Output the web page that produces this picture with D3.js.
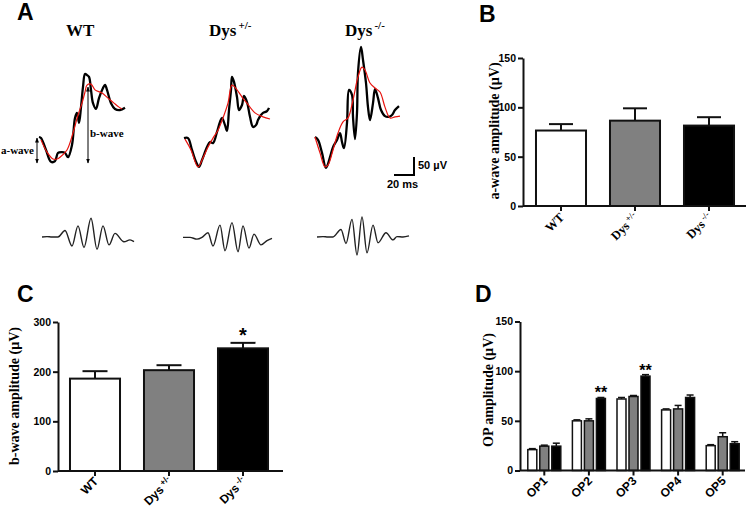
<!DOCTYPE html>
<html><head><meta charset="utf-8">
<script src="https://cdn.jsdelivr.net/npm/d3@7"></script>
<style>
body{margin:0;background:#fff;}
svg{display:block;}
</style></head>
<body>
<svg id="c" width="747" height="509"></svg>
<script>
// ================= DATA =================
const groups = ["WT", "Dys +/-", "Dys -/-"];
const groupFills = ["#ffffff", "#808080", "#000000"];

// Panel B: a-wave amplitude (µV), mean and SEM
const aWaveMean = [76.5, 86.5, 81.5];
const aWaveSem  = [6.5, 12.5, 8.5];
const aWaveTicks = [0, 50, 100, 150];

// Panel C: b-wave amplitude (µV)
const bWaveMean = [186, 203, 247];
const bWaveSem  = [15, 10, 11];
const bWaveTicks = [0, 100, 200, 300];
const bWaveStars = ["", "", "*"];

// Panel D: oscillatory potentials (µV)
const opLabels = ["OP1", "OP2", "OP3", "OP4", "OP5"];
const opWT     = [21, 50, 72, 61, 25];
const opWTSem  = [1, 1, 1.5, 1, 1];
const opHet    = [24.5, 50, 74.5, 62, 34];
const opHetSem = [1, 2, 1, 3.5, 4];
const opKO     = [24.5, 72.5, 95, 73.5, 27];
const opKOSem  = [3, 1, 1.5, 2.5, 2];
const opStars  = ["", "**", "**", "", ""];
const opTicks  = [0, 50, 100, 150];

// Panel A: representative ERG traces [time ms, amplitude µV]
const wtTrace  = [[0,0],[2,-3],[7,-36],[12,-69],[16,-67],[19,-44],[23,-42],[26,-44],[29,-56],[33,-22],[36,53],[38,67],[40,39],[42,83],[44,139],[46,175],[48,172],[50,167],[52,131],[54,94],[57,78],[60,108],[64,136],[66,145],[68,131],[72,94],[76,78],[81,75],[86,81]];
const wtFit    = [[2,-8],[8,-42],[14,-61],[18,-61],[21,-56],[28,-36],[34,11],[39,61],[43,94],[46,125],[48,144],[52,147],[56,131],[63,122],[69,108],[75,94],[80,83],[83,78]];
const hetTrace = [[0,-3],[4,-3],[8,-36],[12,-69],[15,-83],[18,-64],[23,-28],[26,-14],[29,-17],[33,14],[36,42],[38,53],[41,33],[43,17],[45,75],[47,131],[48,167],[50,153],[53,111],[55,75],[58,89],[60,114],[63,97],[66,56],[69,28],[72,33],[74,47],[77,61],[79,67],[83,72],[85,81]];
const hetFit   = [[1,-6],[7,-36],[14,-83],[19,-58],[24,-28],[29,-3],[34,19],[39,53],[44,94],[48,144],[53,131],[58,111],[63,94],[71,67],[79,56],[86,50]];
const koTrace  = [[0,0],[3,-8],[7,-44],[11,-86],[15,-56],[18,-28],[22,-8],[25,11],[27,-14],[29,-31],[32,39],[34,131],[37,117],[38,56],[40,-6],[42,67],[43,178],[46,250],[48,214],[51,150],[53,83],[55,47],[58,94],[60,133],[63,108],[66,75],[70,58],[74,56],[77,61],[80,75],[84,86]];
const koFit    = [[0,0],[5,-44],[10,-83],[13,-78],[18,-36],[23,11],[28,42],[33,53],[38,103],[43,167],[47,194],[50,186],[55,150],[60,136],[65,125],[70,83],[75,53],[80,56],[85,58]];

// Panel A: oscillatory potential traces
const wtOP  = [[0,0],[5,1],[10,0],[16,0],[23,18],[30,-25],[36,31],[42,-29],[49,52],[55,-34],[61,31],[67,-22],[73,10],[82,-13],[88,-8],[92,-13]];
const hetOP = [[0,-1],[7,-1],[14,-6],[19,-1],[25,12],[30,-25],[37,33],[42,-38],[49,40],[55,-41],[60,31],[66,-31],[71,8],[78,-22],[84,-10],[89,-4]];
const koOP  = [[0,0],[6,1],[11,0],[16,0],[24,21],[29,-18],[35,49],[40,-50],[45,56],[50,-44],[56,33],[61,-16],[69,12],[76,-8],[80,1],[86,0],[92,3]];

// ================= DRAWING =================
const SANS = "'Liberation Sans', Arial, Helvetica, sans-serif";
const SERIF = "'Liberation Serif', 'Times New Roman', serif";
const INK = "#111";
const svg = d3.select("#c");
svg.append("rect").attr("width", 747).attr("height", 509).attr("fill", "#fff");

function letter(t, x, y) {
  svg.append("text").attr("x", x).attr("y", y).attr("font-family", SANS)
    .attr("font-weight", "bold").attr("font-size", 23).attr("fill", "#000").text(t);
}
function addName(sel, name, size, supSize, lift) {
  const parts = name.split(" ");
  sel.append("tspan").text(parts[0]);
  if (parts[1]) sel.append("tspan").attr("font-size", supSize).attr("dx", 2).attr("dy", -lift).text(parts[1]);
}
function yAxis(scale, x, ticks) {
  const g = svg.append("g").attr("transform", `translate(${x},0)`)
    .call(d3.axisLeft(scale).tickValues(ticks).tickSize(5).tickSizeOuter(0).tickPadding(2));
  g.select(".domain").attr("stroke", INK).attr("stroke-width", 2);
  g.selectAll(".tick line").attr("stroke", INK).attr("stroke-width", 2);
  g.selectAll(".tick text").attr("font-family", SANS).attr("font-weight", "bold")
    .attr("font-size", 10.5).attr("fill", "#000");
}
function xAxis(band, y, x0, x1) {
  const g = svg.append("g").attr("transform", `translate(0,${y})`)
    .call(d3.axisBottom(band).tickSize(5).tickSizeOuter(0).tickFormat(""));
  g.select(".domain").remove();
  g.append("line").attr("x1", x0).attr("x2", x1).attr("stroke", INK).attr("stroke-width", 2);
  g.selectAll(".tick line").attr("stroke", INK).attr("stroke-width", 2);
}
function xLabels(band, names, yb, font, size, dx, dy) {
  names.forEach(n => {
    const cx = band(n) + band.bandwidth() / 2;
    const t = svg.append("text").attr("transform", `translate(${cx + dx},${yb + dy}) rotate(-45)`)
      .attr("text-anchor", "end").attr("font-family", font).attr("font-weight", "bold")
      .attr("font-size", size).attr("fill", "#000");
    addName(t, n, size, size * 0.7, size * 0.35);
  });
}
function yTitle(text, x, y) {
  svg.append("text").attr("transform", `translate(${x},${y}) rotate(-90)`)
    .attr("text-anchor", "middle").attr("font-family", SERIF).attr("font-weight", "bold")
    .attr("font-size", 14).attr("fill", "#000").text(text);
}
function bars(band, y, yb, means, sems, capW, sw) {
  groups.forEach((gname, i) => {
    const x = band(gname), w = band.bandwidth(), cx = x + w / 2;
    const top = y(means[i]), et = y(means[i] + sems[i]);
    svg.append("line").attr("x1", cx).attr("x2", cx).attr("y1", top).attr("y2", et)
      .attr("stroke", INK).attr("stroke-width", sw);
    svg.append("line").attr("x1", cx - capW / 2).attr("x2", cx + capW / 2).attr("y1", et).attr("y2", et)
      .attr("stroke", INK).attr("stroke-width", sw);
    svg.append("rect").attr("x", x).attr("y", top).attr("width", w).attr("height", yb - top)
      .attr("fill", groupFills[i]).attr("stroke", INK).attr("stroke-width", sw);
  });
}

// ---------- Panel A ----------
letter("A", 17, 20);
const tx = d3.scaleLinear().domain([0, 20]).range([0, 20]);
const ty = d3.scaleLinear().domain([0, 50]).range([0, -18]);
const trLine = d3.line().x(d => tx(d[0])).y(d => ty(d[1])).curve(d3.curveCatmullRom.alpha(0.5));
const opLine = d3.line().x(d => tx(d[0])).y(d => ty(d[1])).curve(d3.curveMonotoneX);

const headers = [{n: groups[0], x: 66}, {n: groups[1], x: 209}, {n: groups[2], x: 345}];
headers.forEach(h => {
  const t = svg.append("text").attr("x", h.x).attr("y", 36).attr("font-family", SERIF)
    .attr("font-weight", "bold").attr("font-size", 17).attr("fill", "#000");
  addName(t, h.n, 17, 11, 7);
});

const traces = [
  {tr: wtTrace, fit: wtFit, op: wtOP, x: 39, ox: 42},
  {tr: hetTrace, fit: hetFit, op: hetOP, x: 184, ox: 183},
  {tr: koTrace, fit: koFit, op: koOP, x: 315, ox: 317}
];
traces.forEach(t => {
  const g = svg.append("g").attr("transform", `translate(${t.x},137)`);
  g.append("path").attr("d", trLine(t.tr)).attr("fill", "none").attr("stroke", "#000")
    .attr("stroke-width", 2.3).attr("stroke-linejoin", "round");
  g.append("path").attr("d", trLine(t.fit)).attr("fill", "none").attr("stroke", "#e8140f")
    .attr("stroke-width", 1.2);
  const go = svg.append("g").attr("transform", `translate(${t.ox},237)`);
  go.append("path").attr("d", opLine(t.op)).attr("fill", "none").attr("stroke", "#222")
    .attr("stroke-width", 1.4);
});

// arrows for a-wave / b-wave
const defs = svg.append("defs");
defs.append("marker").attr("id", "ah").attr("viewBox", "0 0 10 10").attr("refX", 9).attr("refY", 5)
  .attr("markerWidth", 5).attr("markerHeight", 5).attr("orient", "auto-start-reverse")
  .append("path").attr("d", "M0,1 L10,5 L0,9 Z").attr("fill", "#000");
svg.append("line").attr("x1", 37).attr("x2", 37).attr("y1", 138).attr("y2", 163)
  .attr("stroke", "#000").attr("stroke-width", 1).attr("marker-start", "url(#ah)").attr("marker-end", "url(#ah)");
svg.append("line").attr("x1", 88).attr("x2", 88).attr("y1", 87).attr("y2", 163)
  .attr("stroke", "#000").attr("stroke-width", 1).attr("marker-start", "url(#ah)").attr("marker-end", "url(#ah)");
svg.append("text").attr("x", 34).attr("y", 154).attr("text-anchor", "end").attr("font-family", SERIF)
  .attr("font-weight", "bold").attr("font-size", 11).text("a-wave");
svg.append("text").attr("x", 90).attr("y", 137).attr("font-family", SERIF)
  .attr("font-weight", "bold").attr("font-size", 11).text("b-wave");

// scale bar
const sb = svg.append("g").attr("transform", "translate(414,175)");
sb.append("path").attr("d", `M${tx(-20)},0 L0,0 L0,${ty(50)}`).attr("fill", "none")
  .attr("stroke", "#000").attr("stroke-width", 2);
svg.append("text").attr("x", 418).attr("y", 169).attr("font-family", SANS).attr("font-weight", "bold")
  .attr("font-size", 11).text("50 µV");
svg.append("text").attr("x", 387).attr("y", 188).attr("font-family", SANS).attr("font-weight", "bold")
  .attr("font-size", 11).text("20 ms");

// ---------- Panel B ----------
letter("B", 479, 22);
{
  const yb = 206;
  const y = d3.scaleLinear().domain([0, 150]).range([yb, 58]);
  const xb = d3.scaleBand().domain(groups).range([524, 746]).paddingInner(0.324).paddingOuter(0.162);
  bars(xb, y, yb, aWaveMean, aWaveSem, 24, 2);
  yAxis(y, 523, aWaveTicks);
  xAxis(xb, yb, 523, 746);
  xLabels(xb, groups, yb, SERIF, 12.5, 4, 12);
  yTitle("a-wave amplitude (\u00b5V)", 499, 131);
}

// ---------- Panel C ----------
letter("C", 17, 302);
{
  const yb = 471;
  const y = d3.scaleLinear().domain([0, 300]).range([yb, 322]);
  const xb = d3.scaleBand().domain(groups).range([58, 280]).paddingInner(0.324).paddingOuter(0.162);
  bars(xb, y, yb, bWaveMean, bWaveSem, 25, 2);
  yAxis(y, 58, bWaveTicks);
  xAxis(xb, yb, 58, 283);
  xLabels(xb, groups, yb, SANS, 12, 4, 11);
  yTitle("b-wave amplitude (\u00b5V)", 19, 396);
  groups.forEach((gname, i) => {
    if (!bWaveStars[i]) return;
    svg.append("text").attr("x", xb(gname) + xb.bandwidth() / 2).attr("y", y(bWaveMean[i] + bWaveSem[i]) - 1)
      .attr("text-anchor", "middle").attr("font-family", SANS).attr("font-weight", "bold")
      .attr("font-size", 20).text(bWaveStars[i]);
  });
}

// ---------- Panel D ----------
letter("D", 475, 302);
{
  const yb = 470.5;
  const y = d3.scaleLinear().domain([0, 150]).range([yb, 321.5]);
  const xo = d3.scaleBand().domain(opLabels).range([522, 745]).paddingInner(0.26).paddingOuter(0.13);
  const xi = d3.scaleBand().domain(groups).range([0, xo.bandwidth()]).paddingInner(0.25).paddingOuter(0);
  const series = [[opWT, opWTSem], [opHet, opHetSem], [opKO, opKOSem]];
  opLabels.forEach((op, j) => {
    groups.forEach((gname, i) => {
      const x = xo(op) + xi(gname), w = xi.bandwidth(), cx = x + w / 2;
      const m = series[i][0][j], s = series[i][1][j];
      const top = y(m), et = y(m + s);
      svg.append("line").attr("x1", cx).attr("x2", cx).attr("y1", top).attr("y2", et)
        .attr("stroke", INK).attr("stroke-width", 1.5);
      svg.append("line").attr("x1", cx - w / 2 + 1).attr("x2", cx + w / 2 - 1).attr("y1", et).attr("y2", et)
        .attr("stroke", INK).attr("stroke-width", 1.5);
      svg.append("rect").attr("x", x).attr("y", top).attr("width", w).attr("height", yb - top)
        .attr("fill", groupFills[i]).attr("stroke", INK).attr("stroke-width", 1.5);
    });
    if (opStars[j]) {
      const cx = xo(op) + xi(groups[2]) + xi.bandwidth() / 2;
      svg.append("text").attr("x", cx).attr("y", y(opKO[j] + opKOSem[j]) + 1)
        .attr("text-anchor", "middle").attr("font-family", SANS).attr("font-weight", "bold")
        .attr("font-size", 16).text(opStars[j]);
    }
  });
  yAxis(y, 520, opTicks);
  xAxis(xo, yb, 520, 745);
  opLabels.forEach(op => {
    const cx = xo(op) + xo.bandwidth() / 2;
    svg.append("text").attr("transform", `translate(${cx + 4},${yb + 11}) rotate(-45)`)
      .attr("text-anchor", "end").attr("font-family", SANS).attr("font-weight", "bold")
      .attr("font-size", 12).attr("fill", "#000").text(op);
  });
  yTitle("OP amplitude (\u00b5V)", 493, 390);
}
</script>
</body></html>
